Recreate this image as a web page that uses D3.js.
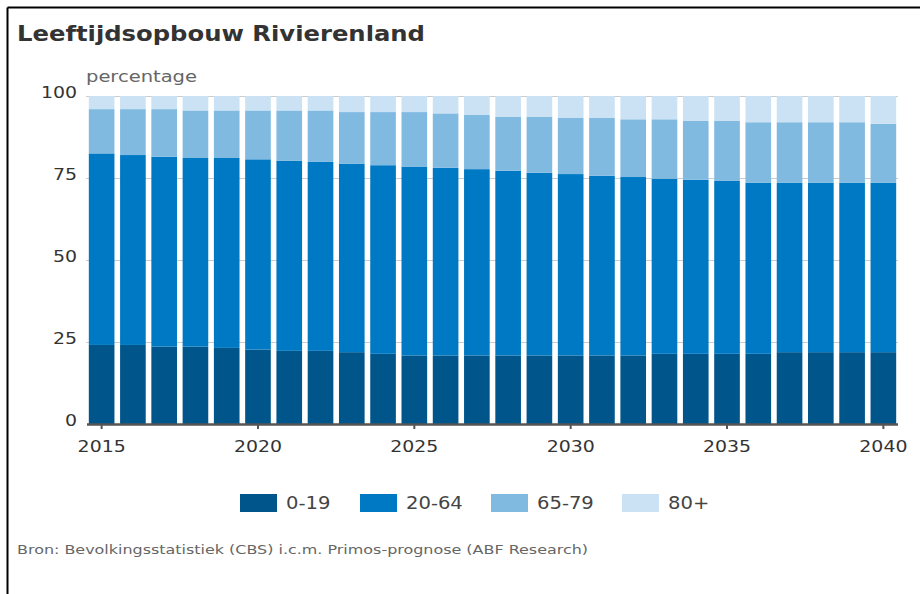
<!DOCTYPE html>
<html>
<head>
<meta charset="utf-8">
<script src="https://cdn.jsdelivr.net/npm/d3@7"></script>
<style>
  html, body { margin: 0; padding: 0; background: #fff; }
  svg { display: block; }
  text { font-family: "DejaVu Sans", Verdana, sans-serif; }
</style>
</head>
<body>
<svg id="chart" width="920" height="594"></svg>
<script>
const years = d3.range(2015, 2041);
const ages0_19  = [24.1, 24.1, 23.6, 23.6, 23.2, 22.7, 22.3, 22.3, 21.9, 21.4, 20.9, 20.9, 20.9, 20.9, 20.9, 20.9, 20.9, 20.9, 21.4, 21.4, 21.4, 21.4, 21.9, 21.9, 21.9, 21.9];
const ages20_64 = [58.4, 57.9, 57.9, 57.5, 57.9, 58.0, 58.0, 57.6, 57.5, 57.5, 57.6, 57.2, 56.8, 56.3, 55.7, 55.3, 54.8, 54.4, 53.4, 53.1, 52.7, 52.2, 51.6, 51.6, 51.6, 51.6];
const ages65_79 = [13.5, 14.0, 14.5, 14.5, 14.5, 14.9, 15.3, 15.7, 15.7, 16.2, 16.6, 16.6, 16.5, 16.5, 17.1, 17.1, 17.6, 17.6, 18.1, 17.9, 18.3, 18.4, 18.5, 18.5, 18.5, 18.0];
const ages80p   = [4.0, 4.0, 4.0, 4.4, 4.4, 4.4, 4.4, 4.4, 4.9, 4.9, 4.9, 5.3, 5.8, 6.3, 6.3, 6.7, 6.7, 7.1, 7.1, 7.6, 7.6, 8.0, 8.0, 8.0, 8.0, 8.5];
const seriesNames = ["0-19", "20-64", "65-79", "80+"];
const seriesColors = ["#00558a", "#0079c4", "#80bae1", "#cae2f3"];
const yTicks = [0, 25, 50, 75, 100];
const xTicks = [2015, 2020, 2025, 2030, 2035, 2040];

const rows = years.map((y, i) => ({
  year: y, "0-19": ages0_19[i], "20-64": ages20_64[i], "65-79": ages65_79[i], "80+": ages80p[i]
}));

const svg = d3.select("#chart");

// widen text horizontally (reference glyphs are wider than DejaVu Sans)
function widen(sel, k) {
  sel.each(function() {
    const len = this.getComputedTextLength();
    d3.select(this).attr("textLength", len * k).attr("lengthAdjust", "spacingAndGlyphs");
  });
}

// frame lines (top and left)
svg.append("line").attr("x1", 7.5).attr("x2", 920).attr("y1", 7.5).attr("y2", 7.5)
  .attr("stroke", "#000").attr("stroke-width", 2);
svg.append("line").attr("x1", 7.5).attr("x2", 7.5).attr("y1", 7.5).attr("y2", 594)
  .attr("stroke", "#000").attr("stroke-width", 2);

// title
svg.append("text").attr("x", 17).attr("y", 41)
  .attr("font-size", 21).attr("font-weight", "bold").attr("fill", "#333")
  .text("Leeftijdsopbouw Rivierenland")
  .attr("textLength", 408).attr("lengthAdjust", "spacingAndGlyphs");

const x = d3.scaleBand().domain(years).range([86, 899]).paddingInner(0.18).paddingOuter(0.09);
const y = d3.scaleLinear().domain([0, 100]).range([424, 96]);

// gridlines
svg.append("g").selectAll("line").data(yTicks.filter(d => d > 0)).join("line")
  .attr("x1", 86).attr("x2", 898)
  .attr("y1", d => y(d) + 0.5).attr("y2", d => y(d) + 0.5)
  .attr("stroke", "#cccccc").attr("stroke-width", 1);

// y labels
const yl = svg.append("g").selectAll("text").data(yTicks).join("text")
  .attr("x", 77).attr("y", d => y(d)).attr("dy", "0.1em")
  .attr("text-anchor", "end").attr("font-size", 16).attr("fill", "#333")
  .text(d => d);
widen(yl, 1.18);

svg.append("text").attr("x", 86).attr("y", 82)
  .attr("font-size", 16).attr("fill", "#666").text("percentage")
  .attr("textLength", 111).attr("lengthAdjust", "spacingAndGlyphs");

// stacked bars
const stack = d3.stack().keys(seriesNames)(rows);
const color = d3.scaleOrdinal().domain(seriesNames).range(seriesColors);

svg.append("g").selectAll("g").data(stack).join("g")
  .attr("fill", d => color(d.key))
  .selectAll("rect").data(d => d).join("rect")
  .attr("x", d => x(d.data.year))
  .attr("width", x.bandwidth())
  .attr("y", d => y(d[1]))
  .attr("height", d => y(d[0]) - y(d[1]));

// x axis
const xAxisG = svg.append("g").attr("transform", "translate(0,424)");
xAxisG.append("line").attr("x1", 87).attr("x2", 898).attr("y1", 0.5).attr("y2", 0.5)
  .attr("stroke", "#555").attr("stroke-width", 2.5);
const xAxis = d3.axisBottom(x).tickValues(xTicks).tickSize(5).tickPadding(12).tickSizeOuter(0);
xAxisG.call(xAxis);
xAxisG.select(".domain").remove();
xAxisG.selectAll(".tick line").attr("stroke", "#555").attr("stroke-width", 2);
xAxisG.selectAll(".tick text").attr("font-size", 16).attr("fill", "#333")
  .attr("font-family", "DejaVu Sans, Verdana, sans-serif");
widen(xAxisG.selectAll(".tick text"), 1.18);

// legend
const legendX = [240, 360, 491, 622];
const lg = svg.append("g").selectAll("g").data(seriesNames).join("g")
  .attr("transform", (d, i) => `translate(${legendX[i]},494)`);
lg.append("rect").attr("width", 37).attr("height", 18).attr("fill", d => color(d));
const lt = lg.append("text").attr("x", 46).attr("y", 9).attr("dy", "0.36em")
  .attr("font-size", 17).attr("fill", "#444").text(d => d);
widen(lt, 1.15);

// source
svg.append("text").attr("x", 17).attr("y", 554)
  .attr("font-size", 13).attr("fill", "#666")
  .text("Bron: Bevolkingsstatistiek (CBS) i.c.m. Primos-prognose (ABF Research)")
  .attr("textLength", 571).attr("lengthAdjust", "spacingAndGlyphs");
</script>
</body>
</html>
